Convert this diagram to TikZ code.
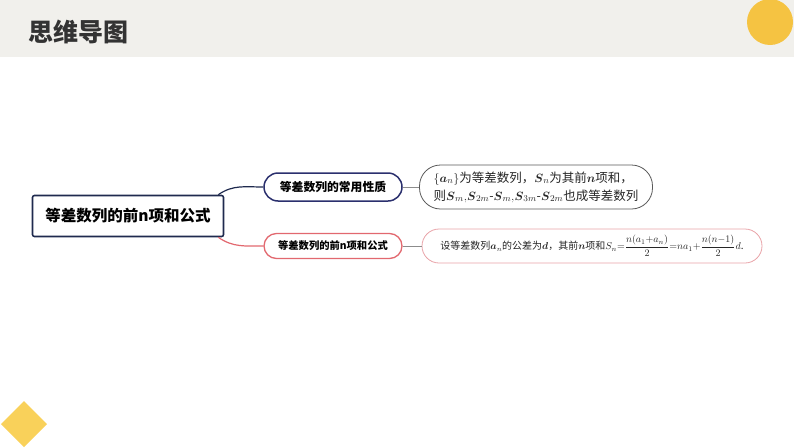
\documentclass[tikz,border=0pt]{standalone}
\usepackage{amsmath}
\usepackage{fontspec}
\newfontfamily\cjk{Noto Sans CJK SC}
\usepackage{tikz}
\usetikzlibrary{positioning}
\definecolor{band}{HTML}{F1F0EC}
\definecolor{sun}{HTML}{F5C342}
\definecolor{diam}{HTML}{F9D15A}
\definecolor{navy}{HTML}{1F2A4E}
\definecolor{bluenavy}{HTML}{2B306E}
\definecolor{rose}{HTML}{E2686F}
\definecolor{pale}{HTML}{E9A3A8}
\definecolor{ink}{HTML}{333333}

\begin{document}
\begin{tikzpicture}[x=1pt,y=-1pt,
  root/.style={draw=navy,line width=1.6pt,rounded corners=2pt,fill=white,
    minimum width=191pt,minimum height=41pt,inner sep=0pt,
    font=\cjk\bfseries\fontsize{15.5}{18}\selectfont},
  topic/.style={line width=1.5pt,fill=white,minimum width=138pt,inner sep=0pt,
    font=\cjk\bfseries},
  leaf/.style={line width=0.8pt,fill=white,inner sep=0pt,text=black!85,
    font=\cjk},
  link/.style={line width=1.2pt}]
\useasboundingbox (0,0) rectangle (794,447);
% header
\fill[band](0,0) rectangle (794,57);
\node[text=ink,font=\cjk\bfseries\fontsize{25}{28}\selectfont,anchor=west] (title) at (25,32) {思维导图};
\fill[sun](770,22) circle (23);
\fill[diam](24,401)--(47,424)--(24,447)--(1,424)--cycle;
% map
\node[root] (main) at (128,216) {等差数列的前n项和公式};
\node[topic,draw=bluenavy,rounded corners=14pt,minimum height=28pt,
  font=\cjk\bfseries\fontsize{11.8}{14}\selectfont] (prop) at (333,187) {等差数列的常用性质};
\node[topic,draw=rose,line width=1.3pt,rounded corners=12.5pt,minimum height=25pt,
  font=\cjk\bfseries\fontsize{10.3}{12}\selectfont] (sum) at (333,246) {等差数列的前n项和公式};
\node[leaf,draw=black!65,rounded corners=21pt,minimum width=233pt,minimum height=44pt,
  align=left,font=\cjk\fontsize{12.5}{18}\selectfont] (propleaf) at (536,187)
  {$\{\boldsymbol{a}_n\}$为等差数列，$\boldsymbol{S}_n$为其前$\boldsymbol{n}$项和，\\
   则$\boldsymbol{S}_m{,}\boldsymbol{S}_{2m}$-$\boldsymbol{S}_m{,}\boldsymbol{S}_{3m}$-$\boldsymbol{S}_{2m}$也成等差数列};
\node[leaf,draw=pale,rounded corners=17pt,minimum width=340pt,minimum height=34pt,
  font=\cjk\fontsize{10}{12}\selectfont] (sumleaf) at (592,246)
  {设等差数列$\boldsymbol{a}_n$的公差为$\boldsymbol{d}$，其前$\boldsymbol{n}$项和$S_n{=}\dfrac{n(a_1{+}a_n)}{2}{=}na_1{+}\dfrac{n(n{-}1)}{2}d$.};
\draw[link,navy] ([xshift=-6pt]main.north east) to[out=35,in=180] (prop.west);
\draw[link,rose] ([xshift=-6pt]main.south east) to[out=-35,in=180] (sum.west);
\draw[line width=1pt,black!45] (prop.east) -- (propleaf.west);
\draw[line width=1pt,black!45] (sum.east) -- (sumleaf.west);
\end{tikzpicture}
\end{document}
